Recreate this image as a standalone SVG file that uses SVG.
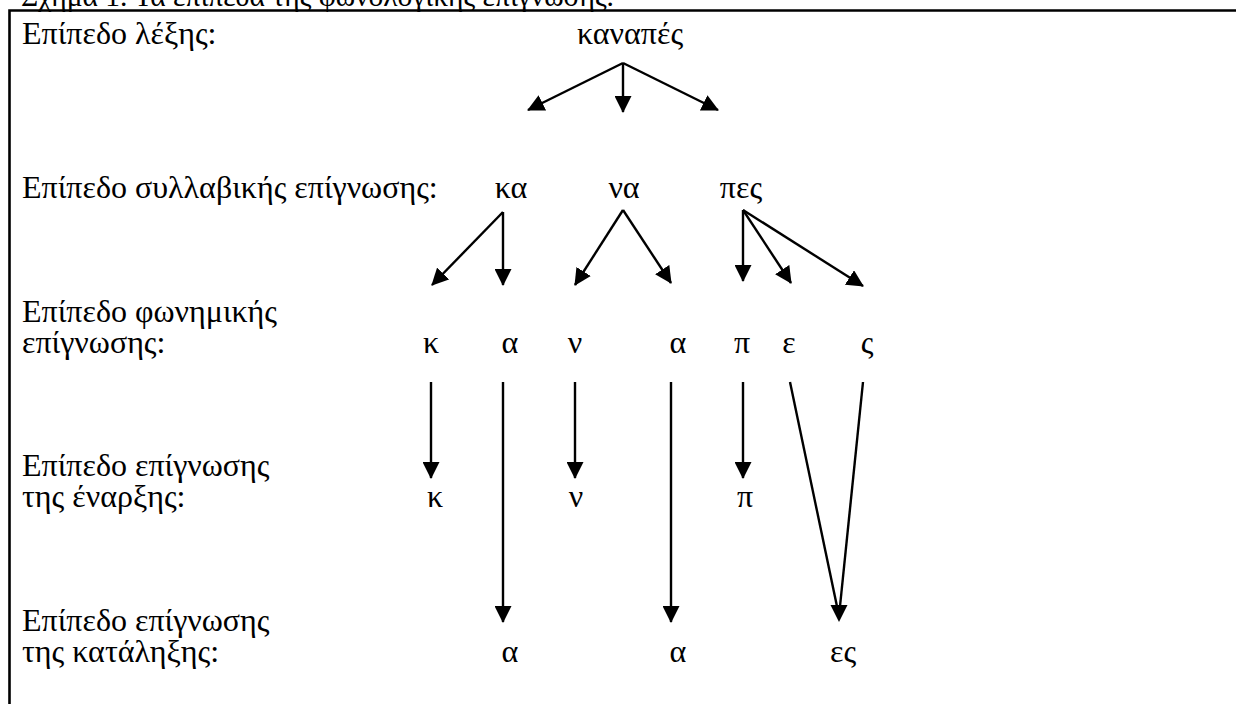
<svg xmlns="http://www.w3.org/2000/svg" width="1236" height="704" viewBox="0 0 1236 704">
<style>
text{font-family:"Liberation Serif","Times New Roman",serif;font-size:32px;fill:#000}
.m{text-anchor:middle}
.c line{stroke:#000;stroke-width:2.4;fill:none}
.c .a{marker-end:url(#ah)}
.c path{fill:#000}
</style>
<defs>
<marker id="ah" viewBox="0 0 17 17" refX="16" refY="8.5" markerWidth="17" markerHeight="17" markerUnits="userSpaceOnUse" orient="auto">
<path d="M0,0 L17,8.5 L0,17 z" fill="#000"/>
</marker>
</defs>
<rect width="1236" height="704" fill="#fff"/>
<text x="21" y="6" style="font-size:29.5px">Σχήμα 1. Τα επίπεδα της φωνολογικής επίγνωσης.</text>
<path d="M9.5,720 V10.5 H1250" fill="none" stroke="#000" stroke-width="2.6"/>
<g id="labels">
<text x="22" y="44">Επίπεδο λέξης:</text>
<text x="22" y="198">Επίπεδο συλλαβικής επίγνωσης:</text>
<text x="22" y="322">Επίπεδο φωνημικής<tspan x="22" dy="31">επίγνωσης:</tspan></text>
<text x="22" y="476">Επίπεδο επίγνωσης<tspan x="22" dy="31">της έναρξης:</tspan></text>
<text x="22" y="631">Επίπεδο επίγνωσης<tspan x="22" dy="31">της κατάληξης:</tspan></text>
</g>
<g id="word"><text class="m" x="630" y="44">καναπές</text></g>
<g id="syl-ka"><text class="m" x="511" y="198">κα</text></g>
<g id="syl-na"><text class="m" x="624" y="198">να</text></g>
<g id="syl-pes"><text class="m" x="741" y="198">πες</text></g>
<g id="ph-k"><text class="m" x="431" y="353">κ</text></g>
<g id="ph-a1"><text class="m" x="510" y="353">α</text></g>
<g id="ph-n"><text class="m" x="575" y="353">ν</text></g>
<g id="ph-a2"><text class="m" x="678" y="353">α</text></g>
<g id="ph-p"><text class="m" x="742" y="353">π</text></g>
<g id="ph-e"><text class="m" x="789" y="353">ε</text></g>
<g id="ph-s"><text class="m" x="867" y="353">ς</text></g>
<g id="on-k"><text class="m" x="435" y="507">κ</text></g>
<g id="on-n"><text class="m" x="576" y="507">ν</text></g>
<g id="on-p"><text class="m" x="745" y="507">π</text></g>
<g id="end-a1"><text class="m" x="510" y="662">α</text></g>
<g id="end-a2"><text class="m" x="678" y="662">α</text></g>
<g id="end-es"><text class="m" x="843" y="662">ες</text></g>
<g id="connectors" class="c">
<line class="a" x1="623" y1="63" x2="528" y2="110"/>
<line class="a" x1="623" y1="63" x2="623" y2="112"/>
<line class="a" x1="623" y1="63" x2="718" y2="110"/>
<line class="a" x1="503" y1="212" x2="432" y2="285"/>
<line class="a" x1="503" y1="212" x2="503" y2="285"/>
<line class="a" x1="623" y1="210" x2="575" y2="285"/>
<line class="a" x1="623" y1="210" x2="671" y2="283"/>
<line class="a" x1="743" y1="210" x2="743" y2="281"/>
<line class="a" x1="743" y1="210" x2="791" y2="283"/>
<line class="a" x1="743" y1="210" x2="863" y2="286"/>
<line class="a" x1="431" y1="382" x2="431" y2="478"/>
<line class="a" x1="503" y1="382" x2="503" y2="622"/>
<line class="a" x1="575" y1="382" x2="575" y2="478"/>
<line class="a" x1="671" y1="382" x2="671" y2="622"/>
<line class="a" x1="743" y1="382" x2="743" y2="478"/>
<line x1="790" y1="382" x2="839" y2="616"/>
<line x1="863" y1="382" x2="839" y2="616"/>
<path d="M830.5,605 L847.5,605 L839,622 z"/>
</g>
</svg>
